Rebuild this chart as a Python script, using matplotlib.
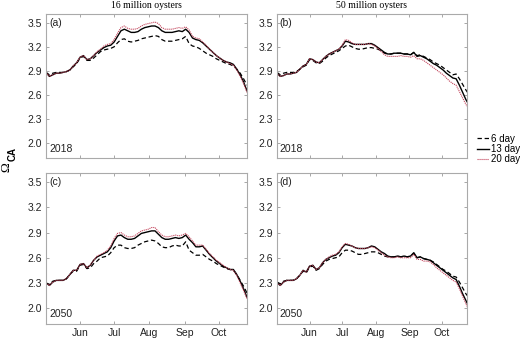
import matplotlib.pyplot as plt

# day of year, every 3 days from 2 May to 26 Oct
days = list(range(122, 300, 3))

month_ticks = [152, 182, 213, 244, 274]
month_labels = ["Jun", "Jul", "Aug", "Sep", "Oct"]
ytick_vals = [2.0, 2.3, 2.6, 2.9, 3.2, 3.5]

# (a) 16 million oysters, 2018
a_6 = [2.88, 2.85, 2.87, 2.88, 2.88, 2.88, 2.89, 2.91, 2.95, 2.99, 3.06, 3.08, 3.03, 3.03, 3.06, 3.10,
       3.14, 3.16, 3.17, 3.18, 3.20, 3.25, 3.29, 3.30, 3.27, 3.26, 3.27, 3.28, 3.30, 3.31, 3.32, 3.33,
       3.34, 3.33, 3.29, 3.27, 3.27, 3.27, 3.28, 3.29, 3.30, 3.33, 3.24, 3.21, 3.20, 3.18, 3.15, 3.12,
       3.10, 3.08, 3.05, 3.03, 3.01, 2.99, 2.98, 2.96, 2.92, 2.87, 2.80, 2.72]
a_13 = [2.88, 2.83, 2.85, 2.87, 2.87, 2.88, 2.89, 2.91, 2.96, 3.00, 3.07, 3.09, 3.04, 3.05, 3.09, 3.13,
        3.16, 3.19, 3.21, 3.22, 3.26, 3.33, 3.40, 3.42, 3.40, 3.38, 3.38, 3.39, 3.42, 3.44, 3.45, 3.46,
        3.46, 3.44, 3.40, 3.38, 3.38, 3.38, 3.39, 3.40, 3.39, 3.42, 3.38, 3.31, 3.29, 3.28, 3.25, 3.21,
        3.17, 3.13, 3.09, 3.06, 3.03, 3.01, 3.00, 2.98, 2.92, 2.85, 2.76, 2.65]
a_20 = [2.88, 2.83, 2.85, 2.87, 2.87, 2.88, 2.89, 2.91, 2.96, 3.00, 3.07, 3.09, 3.04, 3.05, 3.09, 3.14,
        3.17, 3.21, 3.23, 3.24, 3.29, 3.37, 3.44, 3.46, 3.43, 3.42, 3.42, 3.43, 3.46, 3.48, 3.49, 3.50,
        3.51, 3.49, 3.44, 3.42, 3.42, 3.42, 3.43, 3.44, 3.43, 3.45, 3.41, 3.33, 3.31, 3.30, 3.26, 3.22,
        3.17, 3.13, 3.09, 3.06, 3.03, 3.01, 2.99, 2.97, 2.91, 2.83, 2.74, 2.63]

# (b) 50 million oysters, 2018
b_6 = [2.88, 2.85, 2.87, 2.88, 2.88, 2.88, 2.89, 2.92, 2.95, 2.97, 3.04, 3.03, 3.00, 2.99, 3.02, 3.06,
       3.09, 3.11, 3.13, 3.15, 3.18, 3.21, 3.22, 3.20, 3.18, 3.17, 3.17, 3.18, 3.19, 3.19, 3.18, 3.17,
       3.15, 3.12, 3.11, 3.11, 3.12, 3.12, 3.12, 3.11, 3.11, 3.10, 3.13, 3.09, 3.10, 3.08, 3.06, 3.04,
       3.01, 2.99, 2.97, 2.94, 2.91, 2.88, 2.85, 2.86, 2.80, 2.73, 2.66, 2.60]
b_13 = [2.87, 2.83, 2.84, 2.86, 2.86, 2.87, 2.88, 2.92, 2.96, 2.98, 3.05, 3.04, 3.01, 3.00, 3.04, 3.08,
        3.11, 3.13, 3.15, 3.17, 3.21, 3.27, 3.26, 3.24, 3.23, 3.23, 3.23, 3.23, 3.24, 3.24, 3.22, 3.19,
        3.16, 3.13, 3.11, 3.11, 3.12, 3.12, 3.12, 3.11, 3.11, 3.10, 3.13, 3.08, 3.09, 3.07, 3.05, 3.02,
        2.99, 2.97, 2.94, 2.91, 2.87, 2.84, 2.81, 2.80, 2.72, 2.63, 2.54, 2.47]
b_20 = [2.87, 2.83, 2.84, 2.86, 2.86, 2.87, 2.88, 2.92, 2.96, 2.98, 3.05, 3.04, 3.01, 3.00, 3.04, 3.08,
        3.11, 3.13, 3.15, 3.17, 3.22, 3.29, 3.28, 3.25, 3.23, 3.23, 3.23, 3.23, 3.24, 3.23, 3.21, 3.18,
        3.14, 3.10, 3.08, 3.08, 3.08, 3.08, 3.09, 3.08, 3.08, 3.07, 3.09, 3.05, 3.05, 3.03, 3.00, 2.97,
        2.94, 2.91, 2.88, 2.85, 2.81, 2.77, 2.74, 2.72, 2.64, 2.56, 2.48, 2.42]

# (c) 16 million oysters, 2050
c_6 = [2.30, 2.28, 2.32, 2.33, 2.33, 2.33, 2.35, 2.40, 2.44, 2.44, 2.51, 2.52, 2.47, 2.48, 2.53, 2.56,
       2.60, 2.61, 2.62, 2.66, 2.72, 2.75, 2.75, 2.72, 2.71, 2.71, 2.72, 2.75, 2.77, 2.79, 2.80, 2.81,
       2.80, 2.77, 2.73, 2.72, 2.72, 2.74, 2.75, 2.74, 2.74, 2.79, 2.69, 2.66, 2.63, 2.63, 2.64, 2.61,
       2.58, 2.56, 2.53, 2.51, 2.49, 2.47, 2.46, 2.45, 2.40, 2.33, 2.26, 2.18]
c_13 = [2.30, 2.27, 2.31, 2.33, 2.33, 2.33, 2.35, 2.40, 2.45, 2.45, 2.52, 2.53, 2.48, 2.51, 2.57, 2.61,
        2.63, 2.65, 2.67, 2.72, 2.80, 2.86, 2.87, 2.84, 2.82, 2.82, 2.83, 2.86, 2.89, 2.90, 2.91, 2.92,
        2.92, 2.88, 2.84, 2.82, 2.82, 2.83, 2.84, 2.83, 2.84, 2.87, 2.82, 2.78, 2.73, 2.73, 2.74, 2.69,
        2.64, 2.60, 2.56, 2.53, 2.50, 2.48, 2.46, 2.46, 2.40, 2.32, 2.23, 2.13]
c_20 = [2.30, 2.27, 2.31, 2.33, 2.33, 2.33, 2.35, 2.40, 2.45, 2.45, 2.52, 2.53, 2.48, 2.51, 2.57, 2.62,
        2.64, 2.66, 2.69, 2.74, 2.83, 2.89, 2.90, 2.87, 2.85, 2.85, 2.86, 2.89, 2.92, 2.93, 2.94, 2.96,
        2.96, 2.91, 2.87, 2.85, 2.85, 2.86, 2.87, 2.86, 2.87, 2.89, 2.85, 2.80, 2.75, 2.75, 2.75, 2.70,
        2.65, 2.61, 2.57, 2.54, 2.51, 2.48, 2.46, 2.45, 2.39, 2.30, 2.21, 2.11]

# (d) 50 million oysters, 2050
d_6 = [2.31, 2.29, 2.32, 2.33, 2.33, 2.33, 2.35, 2.39, 2.44, 2.42, 2.49, 2.50, 2.45, 2.47, 2.52, 2.56,
       2.58, 2.59, 2.60, 2.61, 2.66, 2.69, 2.69, 2.68, 2.66, 2.64, 2.64, 2.65, 2.66, 2.67, 2.67, 2.66,
       2.64, 2.62, 2.61, 2.61, 2.61, 2.62, 2.61, 2.62, 2.61, 2.62, 2.65, 2.60, 2.61, 2.59, 2.58, 2.57,
       2.55, 2.52, 2.49, 2.46, 2.44, 2.41, 2.38, 2.37, 2.31, 2.24, 2.17, 2.12]
d_13 = [2.30, 2.27, 2.31, 2.33, 2.33, 2.33, 2.35, 2.39, 2.45, 2.43, 2.50, 2.51, 2.46, 2.48, 2.54, 2.58,
        2.60, 2.62, 2.63, 2.66, 2.72, 2.76, 2.75, 2.74, 2.72, 2.71, 2.71, 2.71, 2.72, 2.74, 2.73, 2.70,
        2.67, 2.65, 2.62, 2.61, 2.61, 2.62, 2.61, 2.62, 2.61, 2.62, 2.66, 2.60, 2.61, 2.59, 2.58, 2.57,
        2.54, 2.51, 2.48, 2.45, 2.42, 2.39, 2.36, 2.34, 2.26, 2.17, 2.09, 2.01]
d_20 = [2.30, 2.27, 2.31, 2.33, 2.33, 2.33, 2.35, 2.39, 2.45, 2.43, 2.50, 2.51, 2.46, 2.48, 2.54, 2.58,
        2.61, 2.63, 2.64, 2.67, 2.73, 2.77, 2.76, 2.74, 2.72, 2.71, 2.71, 2.71, 2.72, 2.73, 2.72, 2.69,
        2.66, 2.63, 2.61, 2.60, 2.60, 2.61, 2.60, 2.60, 2.60, 2.60, 2.64, 2.58, 2.58, 2.56, 2.56, 2.55,
        2.52, 2.48, 2.45, 2.42, 2.39, 2.36, 2.33, 2.31, 2.23, 2.14, 2.05, 1.97]

panels = [
    ("(a)", "2018", a_6, a_13, a_20),
    ("(b)", "2018", b_6, b_13, b_20),
    ("(c)", "2050", c_6, c_13, c_20),
    ("(d)", "2050", d_6, d_13, d_20),
]

W, H = 520, 341
# axes boxes in pixels: left, top, right, bottom
boxes = [(46, 14, 247, 158), (277, 14, 467, 158), (46, 173, 247, 324), (277, 173, 467, 324)]
xlims = [(122, 299), (122, 297), (122, 299), (122, 297)]

sans = ["Liberation Sans", "DejaVu Sans"]
serif = ["Liberation Serif", "DejaVu Serif"]
red = "#c2435a"
txt = "#222222"

fig = plt.figure(figsize=(W / 100, H / 100), dpi=100)

handles = None
for i, (tag, year, s6, s13, s20) in enumerate(panels):
    l, t, r, b = boxes[i]
    ax = fig.add_axes([l / W, 1 - b / H, (r - l) / W, (b - t) / H])
    h1, = ax.plot(days, s6, color="black", lw=0.9, ls=(0, (3.5, 2.2)))
    h2, = ax.plot(days, s13, color="black", lw=1.0)
    h3, = ax.plot(days, s20, color=red, lw=0.8, ls=(0, (1, 0.8)))
    handles = [h1, h2, h3]
    ax.set_xlim(*xlims[i])
    ax.set_ylim(1.81, 3.61)
    ax.set_yticks(ytick_vals)
    ax.set_yticklabels([f"{v:.1f}" for v in ytick_vals], fontsize=7.5, family=sans, color=txt)
    ax.set_xticks(month_ticks)
    if i >= 2:
        ax.set_xticklabels(month_labels, fontsize=7.5, family=sans, color=txt)
    else:
        ax.set_xticklabels([])
    ax.tick_params(direction="in", length=2.5, width=0.6, color="#999999",
                   top=True, right=True, pad=3)
    for sp in ax.spines.values():
        sp.set_color("#aaaaaa")
        sp.set_linewidth(0.8)
    ax.text(0.015, 0.975, tag, transform=ax.transAxes, ha="left", va="top",
            fontsize=7.5, family=sans, color=txt)
    ax.text(0.015, 0.03, year, transform=ax.transAxes, ha="left", va="bottom",
            fontsize=7.5, family=sans, color=txt)

fig.text(146 / W, 1 - 5 / H, "16 million oysters", ha="center", va="center",
         fontsize=7, family=serif)
fig.text(372 / W, 1 - 5 / H, "50 million oysters", ha="center", va="center",
         fontsize=7, family=serif)

fig.text(6 / W, 1 - 167 / H, "Ω", rotation=90, ha="center", va="center",
         fontsize=9.5, family=serif)
fig.text(13 / W, 1 - 154 / H, "CA", rotation=90, ha="center", va="center",
         fontsize=7, family=sans, fontweight="bold")

fig.legend(handles, ["6 day", "13 day", "20 day"], loc="center left",
           bbox_to_anchor=(477 / W, 1 - 149 / H), frameon=False,
           prop={"family": sans, "size": 7}, handlelength=1.2,
           handletextpad=0.2, labelspacing=0.05, borderaxespad=0, borderpad=0)

fig.savefig("out.png", dpi=100)
